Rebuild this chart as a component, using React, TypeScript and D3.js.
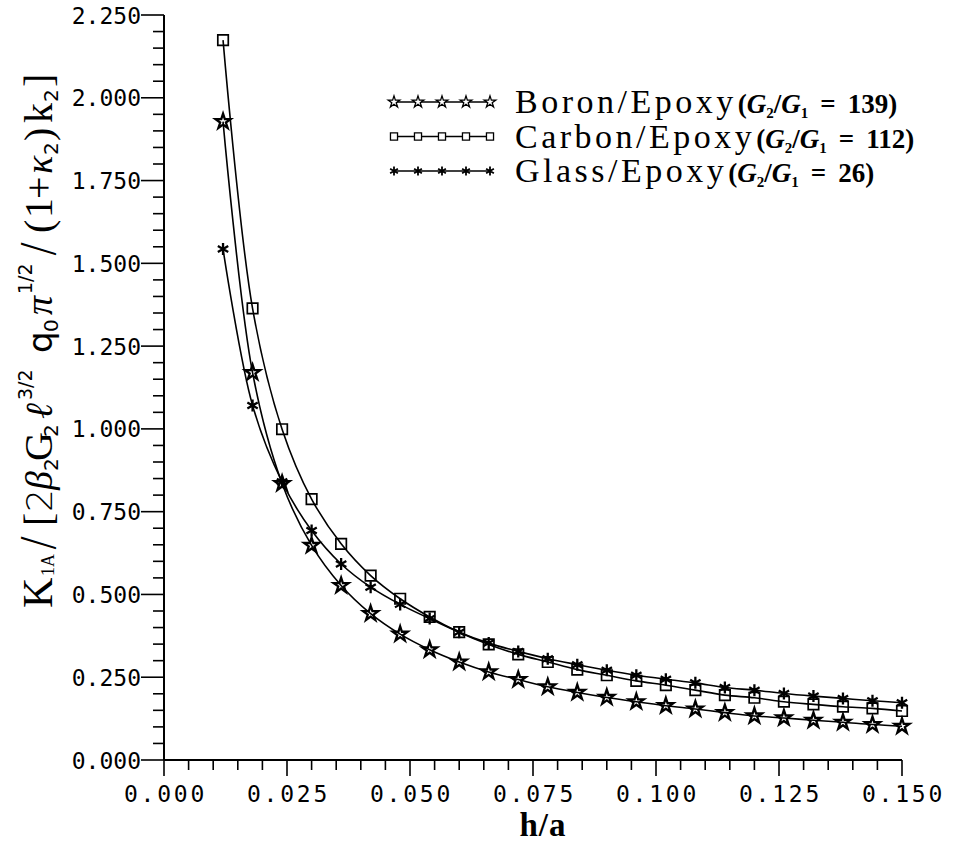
import React from "react";
import * as d3 from "d3";

const hOverA = [0.012, 0.018, 0.024, 0.03, 0.036, 0.042, 0.048, 0.054, 0.06, 0.066, 0.072, 0.078, 0.084, 0.09, 0.096, 0.102, 0.108, 0.114, 0.12, 0.126, 0.132, 0.138, 0.144, 0.15];
const boron = [1.928, 1.17, 0.835, 0.648, 0.527, 0.442, 0.38, 0.333, 0.296, 0.266, 0.243, 0.221, 0.204, 0.189, 0.176, 0.164, 0.154, 0.143, 0.133, 0.127, 0.12, 0.114, 0.107, 0.102];
const carbon = [2.174, 1.364, 0.999, 0.788, 0.653, 0.557, 0.487, 0.432, 0.386, 0.349, 0.319, 0.296, 0.273, 0.256, 0.239, 0.226, 0.211, 0.196, 0.188, 0.176, 0.168, 0.161, 0.156, 0.148];
const glass = [1.543, 1.071, 0.84, 0.693, 0.592, 0.522, 0.47, 0.427, 0.386, 0.353, 0.328, 0.306, 0.288, 0.271, 0.256, 0.244, 0.233, 0.219, 0.211, 0.201, 0.193, 0.186, 0.179, 0.173];
const xTicks = [0, 0.025, 0.05, 0.075, 0.1, 0.125, 0.15];
const yTicks = [0, 0.25, 0.5, 0.75, 1.0, 1.25, 1.5, 1.75, 2.0, 2.25];
const seriesNames = ["Boron/Epoxy", "Carbon/Epoxy", "Glass/Epoxy"];
const ratios = ["139", "112", "26"];
const markerKinds = ["star", "square", "asterisk"];

const MONO = "'DejaVu Sans Mono', monospace";
const SERIF = "'Liberation Serif', 'Times New Roman', serif";
const SANS = "'DejaVu Sans', sans-serif";

function markerPath(kind: string, big: boolean): string {
  if (kind === "star") return d3.symbol(d3.symbolStar, big ? 70 : 42)() as string;
  if (kind === "square") return d3.symbol(d3.symbolSquare, big ? 110 : 50)() as string;
  const r = big ? 6 : 4.5;
  const c = Math.cos(Math.PI / 6) * r, s = Math.sin(Math.PI / 6) * r;
  return `M0,${-r}L0,${r}M${-c},${-s}L${c},${s}M${-c},${s}L${c},${-s}`;
}

function YTitle() {
  const base = 52, start = 608;
  const g = [
    { t: "K", p: 0, f: SERIF, s: 42, d: 0 },
    { t: "1A", p: 32, f: SERIF, s: 18, d: 2 },
    { t: "/", p: 58, f: SANS, s: 42, d: 0, w: 200 },
    { t: "[", p: 82, f: SERIF, s: 40, d: 0 },
    { t: "2", p: 96, f: SANS, s: 36, d: 0, w: 200 },
    { t: "β", p: 118, f: SERIF, s: 38, d: 0, i: true },
    { t: "2", p: 137, f: SANS, s: 20, d: 6 },
    { t: "G", p: 147, f: SERIF, s: 40, d: 0 },
    { t: "2", p: 171, f: SANS, s: 20, d: 6 },
    { t: "ℓ", p: 189, f: SERIF, s: 38, d: 0, i: true },
    { t: "3/2", p: 208, f: SANS, s: 19, d: -20 },
    { t: "q", p: 255, f: SANS, s: 34, d: 0 },
    { t: "0", p: 276, f: SANS, s: 20, d: 6 },
    { t: "π", p: 293, f: SERIF, s: 38, d: 0, i: true },
    { t: "1/2", p: 314, f: SANS, s: 19, d: -20 },
    { t: "/", p: 352, f: SANS, s: 42, d: 0, w: 200 },
    { t: "(", p: 375, f: SERIF, s: 40, d: 0 },
    { t: "1", p: 390, f: SERIF, s: 40, d: 0 },
    { t: "+", p: 409, f: SERIF, s: 40, d: 0 },
    { t: "κ", p: 434, f: SERIF, s: 38, d: 0, i: true },
    { t: "2", p: 453, f: SANS, s: 20, d: 6 },
    { t: ")", p: 467, f: SERIF, s: 40, d: 0 },
    { t: "k", p: 485, f: SERIF, s: 40, d: 0 },
    { t: "2", p: 506, f: SANS, s: 20, d: 6 },
    { t: "]", p: 521, f: SERIF, s: 40, d: 0 },
  ];
  return (
    <text transform="rotate(-90)" fill="#000">
      {g.map((o: any, k) => (
        <tspan key={k} x={o.p - start} y={base + o.d} fontFamily={o.f} fontSize={o.s}
          fontStyle={o.i ? "italic" : "normal"} fontWeight={o.w || 400}>{o.t}</tspan>
      ))}
    </text>
  );
}

export default function App() {
  const W = 959, H = 845;
  const x = d3.scaleLinear().domain([0, 0.15]).range([164, 902]);
  const y = d3.scaleLinear().domain([0, 2.25]).range([760, 15]);
  const fmt = d3.format(".3f");
  const series = [boron, carbon, glass];
  const line = d3.line<number>().x((_, i) => x(hOverA[i])).y((v) => y(v)).curve(d3.curveCatmullRom.alpha(0.5));
  const xMinor = d3.range(0, 0.1501, 0.005);
  const yMinor = d3.range(0, 2.2501, 0.05);
  const legendRows = d3.scaleLinear().domain([0, 2]).range([102, 171]);
  const legendX = d3.scaleLinear().domain([0, 4]).range([394, 490]);
  const pStyle = { fontSize: 27, fontWeight: 700 } as const;

  return (
    <svg width={W} height={H} style={{ position: "absolute", left: 0, top: 0, background: "#fff" }}>
      <rect width={W} height={H} fill="#fff" />
      <line x1={x(0)} x2={x(0.15)} y1={y(0)} y2={y(0)} stroke="#000" strokeWidth={2} />
      <line x1={x(0)} x2={x(0)} y1={y(0)} y2={y(2.25)} stroke="#000" strokeWidth={2} />
      {xMinor.map((t, i) => (
        <line key={"xm" + i} x1={x(t)} x2={x(t)} y1={y(0)} y2={y(0) + (i % 5 === 0 ? 16 : 10)} stroke="#000" strokeWidth={1.6} />
      ))}
      {yMinor.map((t, i) => (
        <line key={"ym" + i} x1={x(0)} x2={x(0) - (i % 5 === 0 ? 23 : 11)} y1={y(t)} y2={y(t)} stroke="#000" strokeWidth={1.6} />
      ))}
      {xTicks.map((t) => (
        <text key={"xt" + t} x={x(t) + 1.5} y={802} textAnchor="middle" fontFamily={MONO} fontSize={23} letterSpacing={2.8} fill="#000">{fmt(t)}</text>
      ))}
      {yTicks.map((t) => (
        <text key={"yt" + t} x={141} y={y(t) + 8.5} textAnchor="end" fontFamily={MONO} fontSize={23} fill="#000">{fmt(t)}</text>
      ))}
      {series.map((s, si) => (
        <g key={"s" + si}>
          <path d={line(s) as string} fill="none" stroke="#000" strokeWidth={1.6} />
          {s.map((v, i) => (
            <path key={i} d={markerPath(markerKinds[si], true)} transform={`translate(${x(hOverA[i])},${y(v)})`}
              fill="none" stroke="#000" strokeWidth={markerKinds[si] === "square" ? 1.7 : 2.3} />
          ))}
        </g>
      ))}
      {seriesNames.map((name, si) => (
        <g key={"l" + si}>
          <line x1={legendX(0)} x2={legendX(4)} y1={legendRows(si)} y2={legendRows(si)} stroke="#000" strokeWidth={1.4} />
          {d3.range(5).map((k) => (
            <path key={k} d={markerPath(markerKinds[si], false)} transform={`translate(${legendX(k)},${legendRows(si)})`}
              fill={markerKinds[si] === "asterisk" ? "none" : "#fff"} stroke="#000" strokeWidth={markerKinds[si] === "asterisk" ? 1.8 : 1.3} />
          ))}
          <text x={515} y={legendRows(si) + 11} fontFamily={SERIF} fill="#000">
            <tspan fontSize={34} letterSpacing={3.5}>{name}</tspan>
            <tspan {...pStyle} dx={1}>(</tspan>
            <tspan {...pStyle} fontStyle="italic">G</tspan>
            <tspan fontSize={15} fontWeight={700} dy={5}>2</tspan>
            <tspan {...pStyle} dy={-5}>/</tspan>
            <tspan {...pStyle} fontStyle="italic">G</tspan>
            <tspan fontSize={15} fontWeight={700} dy={5}>1</tspan>
            <tspan {...pStyle} dy={-5} dx={12}>=</tspan>
            <tspan {...pStyle} dx={12}>{ratios[si]}</tspan>
            <tspan {...pStyle}>)</tspan>
          </text>
        </g>
      ))}
      <text x={543} y={836} textAnchor="middle" fontFamily={SERIF} fontWeight={700} fontSize={33} letterSpacing={1} fill="#000">h/a</text>
      <YTitle />
    </svg>
  );
}
